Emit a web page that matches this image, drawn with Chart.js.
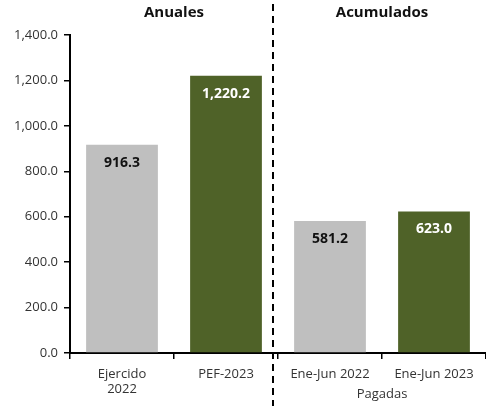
<!DOCTYPE html>
<html>
<head>
<meta charset="utf-8">
<script src="https://cdn.jsdelivr.net/npm/chart.js@4"></script>
<style>
  html, body { margin: 0; padding: 0; background: #fff; }
  #wrap { width: 486px; height: 406px; }
</style>
</head>
<body>
<div id="wrap"><canvas id="chart" width="486" height="406"></canvas></div>
<script>
var categories = [['Ejercido', '2022'], 'PEF-2023', 'Ene-Jun 2022', 'Ene-Jun 2023'];
var values = [916.3, 1220.2, 581.2, 623.0];
var barColors = ['#bfbfbf', '#4f6228', '#bfbfbf', '#4f6228'];
var labelColors = ['#111111', '#ffffff', '#111111', '#ffffff'];
var groupTitles = ['Anuales', 'Acumulados'];
var subLabel = 'Pagadas';

var fontFam = '"Open Sans", "Liberation Sans", sans-serif';

function fmt(v) {
  return v.toLocaleString('en-US', { minimumFractionDigits: 1, maximumFractionDigits: 1 });
}

var extras = {
  id: 'extras',
  afterDraw: function (chart) {
    var ctx = chart.ctx;
    var x = chart.scales.x;
    var area = chart.chartArea;
    var meta = chart.getDatasetMeta(0);
    ctx.save();

    // value labels inside bars
    ctx.font = 'bold 14px ' + fontFam;
    ctx.textAlign = 'center';
    ctx.textBaseline = 'middle';
    meta.data.forEach(function (bar, i) {
      ctx.fillStyle = labelColors[i];
      ctx.fillText(fmt(values[i]), bar.x, bar.y + 18);
    });

    // dashed separator
    var sepX = (x.getPixelForValue(1) + x.getPixelForValue(2)) / 2 - 5;
    ctx.strokeStyle = '#000';
    ctx.lineWidth = 2;
    ctx.setLineDash([7, 5]);
    ctx.beginPath();
    ctx.moveTo(sepX, 4);
    ctx.lineTo(sepX, chart.height);
    ctx.stroke();
    ctx.setLineDash([]);

    // group titles
    ctx.fillStyle = '#111';
    ctx.font = 'bold 15px ' + fontFam;
    ctx.fillText(groupTitles[0], (x.getPixelForValue(0) + x.getPixelForValue(1)) / 2, 13);
    ctx.fillText(groupTitles[1], (x.getPixelForValue(2) + x.getPixelForValue(3)) / 2, 13);

    // sub label under the accumulated group
    ctx.font = '13px ' + fontFam;
    ctx.fillStyle = '#333';
    ctx.fillText(subLabel, (x.getPixelForValue(2) + x.getPixelForValue(3)) / 2, area.bottom + 41);
    ctx.restore();
  }
};

var ctx = document.getElementById('chart').getContext('2d');
var myChart = new Chart(ctx, {
  type: 'bar',
  data: {
    labels: categories,
    datasets: [{
      data: values,
      backgroundColor: barColors,
      categoryPercentage: 1,
      barPercentage: 0.69
    }]
  },
  options: {
    responsive: false,
    animation: false,
    layout: { padding: { top: 35, right: 0, left: 0, bottom: 0 } },
    plugins: {
      legend: { display: false },
      tooltip: { enabled: false }
    },
    scales: {
      x: {
        grid: { display: true, drawOnChartArea: false, drawTicks: true, tickLength: 6, color: '#000', lineWidth: 1.5 },
        border: { color: '#000', width: 2 },
        ticks: { color: '#333', font: { family: fontFam, size: 13 }, padding: 7, maxRotation: 0 },
        afterFit: function (s) { s.height = 53; }
      },
      y: {
        min: 0,
        max: 1400,
        grid: { display: true, drawOnChartArea: false, drawTicks: true, tickLength: 6, color: '#000', lineWidth: 1.5 },
        border: { color: '#000', width: 2 },
        ticks: {
          stepSize: 200,
          color: '#333',
          font: { family: fontFam, size: 13 },
          padding: 6,
          callback: function (v) { return fmt(v); }
        },
        afterFit: function (s) { s.width = 70; }
      }
    }
  },
  plugins: [extras]
});
</script>
</body>
</html>
